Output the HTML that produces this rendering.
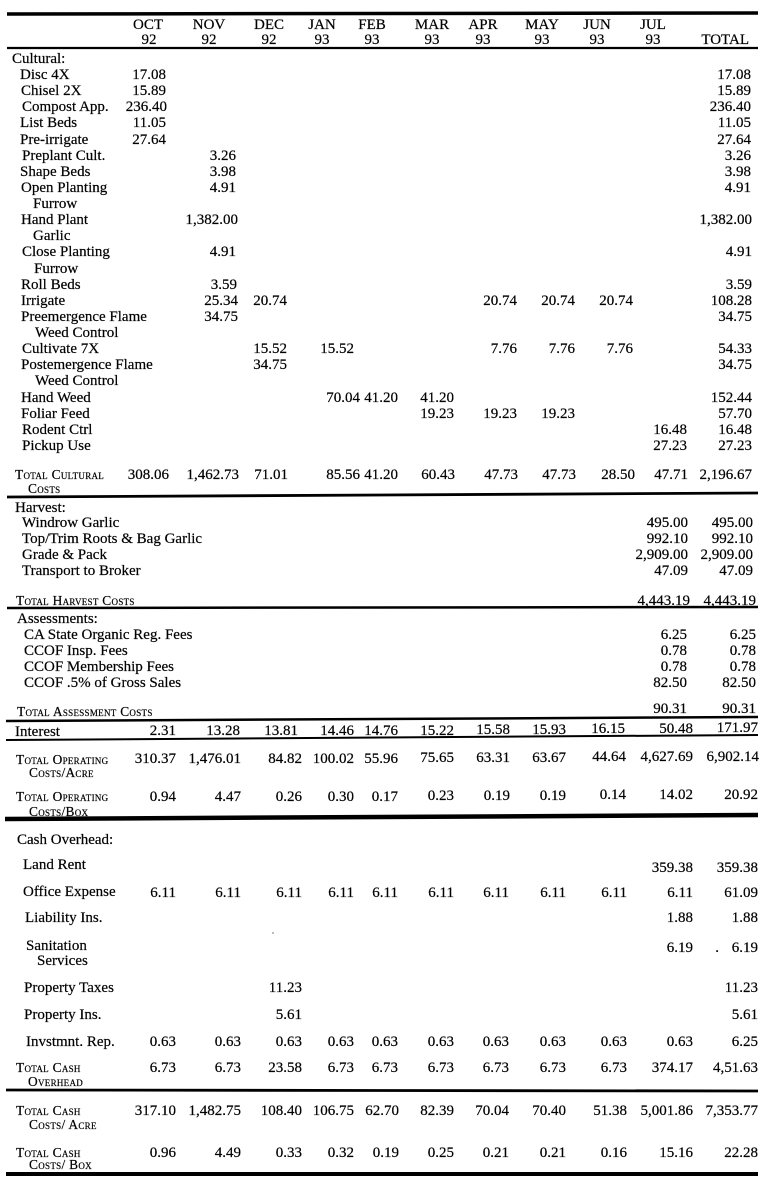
<!DOCTYPE html>
<html><head><meta charset="utf-8">
<style>
html,body{margin:0;padding:0;background:#fff;}
body{width:768px;height:1181px;position:relative;overflow:hidden;}
div{position:absolute;white-space:nowrap;font:15px/16px "Liberation Serif",serif;color:#000;-webkit-text-stroke:0.2px #000;}
.c{width:60px;text-align:center;}
.n{text-align:right;}
.s{font-size:13.4px;line-height:14px;font-variant:small-caps;letter-spacing:0.3px;}
svg{position:absolute;left:0;top:0;}
</style></head><body>
<svg width="768" height="1181">
<g stroke="#000" stroke-linecap="butt">
<line x1="7" y1="14" x2="758" y2="13" stroke-width="3.5"/>
<line x1="7" y1="48" x2="758" y2="48" stroke-width="2.2"/>
<line x1="7" y1="497" x2="758" y2="493" stroke-width="2.8"/>
<line x1="7" y1="608" x2="758" y2="607" stroke-width="2.5"/>
<line x1="6" y1="721" x2="758" y2="717" stroke-width="2.5"/>
<line x1="6" y1="740" x2="758" y2="735" stroke-width="2"/>
<line x1="5" y1="819" x2="758" y2="815" stroke-width="4.5"/>
<line x1="6" y1="1090" x2="758" y2="1091" stroke-width="2.8"/>
<line x1="6" y1="1174" x2="758" y2="1174" stroke-width="4"/>
</g>
<circle cx="273" cy="933" r="0.7" fill="#555"/>
</svg>

<!-- header -->
<div class="c" style="left:118px;top:17px">OCT</div><div class="c" style="left:119px;top:32px">92</div>
<div class="c" style="left:179px;top:17px">NOV</div><div class="c" style="left:179px;top:32px">92</div>
<div class="c" style="left:239px;top:17px">DEC</div><div class="c" style="left:239px;top:32px">92</div>
<div class="c" style="left:292px;top:17px">JAN</div><div class="c" style="left:292px;top:32px">93</div>
<div class="c" style="left:342px;top:17px">FEB</div><div class="c" style="left:342px;top:32px">93</div>
<div class="c" style="left:402px;top:17px">MAR</div><div class="c" style="left:402px;top:32px">93</div>
<div class="c" style="left:453px;top:17px">APR</div><div class="c" style="left:453px;top:32px">93</div>
<div class="c" style="left:512px;top:17px">MAY</div><div class="c" style="left:512px;top:32px">93</div>
<div class="c" style="left:567px;top:17px">JUN</div><div class="c" style="left:567px;top:32px">93</div>
<div class="c" style="left:623px;top:17px">JUL</div><div class="c" style="left:623px;top:32px">93</div>
<div class="n" style="right:19px;top:32px">TOTAL</div>

<!-- cultural labels -->
<div style="left:12px;top:51px">Cultural:</div>
<div style="left:20px;top:67px">Disc 4X</div>
<div style="left:21px;top:83px">Chisel 2X</div>
<div style="left:22px;top:99px">Compost App.</div>
<div style="left:20px;top:115px">List Beds</div>
<div style="left:20px;top:132px">Pre-irrigate</div>
<div style="left:22px;top:148px">Preplant Cult.</div>
<div style="left:20px;top:164px">Shape Beds</div>
<div style="left:21px;top:180px">Open Planting</div>
<div style="left:33px;top:196px">Furrow</div>
<div style="left:21px;top:212px">Hand Plant</div>
<div style="left:33px;top:228px">Garlic</div>
<div style="left:22px;top:244px">Close Planting</div>
<div style="left:34px;top:261px">Furrow</div>
<div style="left:21px;top:277px">Roll Beds</div>
<div style="left:21px;top:293px">Irrigate</div>
<div style="left:21px;top:309px">Preemergence Flame</div>
<div style="left:35px;top:325px">Weed Control</div>
<div style="left:22px;top:341px">Cultivate 7X</div>
<div style="left:21px;top:357px">Postemergence Flame</div>
<div style="left:35px;top:373px">Weed Control</div>
<div style="left:21px;top:390px">Hand Weed</div>
<div style="left:21px;top:406px">Foliar Feed</div>
<div style="left:22px;top:422px">Rodent Ctrl</div>
<div style="left:22px;top:438px">Pickup Use</div>

<!-- cultural numbers -->
<div class="n" style="right:602px;top:67px">17.08</div><div class="n" style="right:17px;top:67px">17.08</div>
<div class="n" style="right:602px;top:83px">15.89</div><div class="n" style="right:17px;top:83px">15.89</div>
<div class="n" style="right:601px;top:99px">236.40</div><div class="n" style="right:17px;top:99px">236.40</div>
<div class="n" style="right:602px;top:115px">11.05</div><div class="n" style="right:17px;top:115px">11.05</div>
<div class="n" style="right:602px;top:132px">27.64</div><div class="n" style="right:17px;top:132px">27.64</div>
<div class="n" style="right:532px;top:148px">3.26</div><div class="n" style="right:17px;top:148px">3.26</div>
<div class="n" style="right:532px;top:164px">3.98</div><div class="n" style="right:17px;top:164px">3.98</div>
<div class="n" style="right:532px;top:180px">4.91</div><div class="n" style="right:17px;top:180px">4.91</div>
<div class="n" style="right:530px;top:212px">1,382.00</div><div class="n" style="right:16px;top:212px">1,382.00</div>
<div class="n" style="right:532px;top:244px">4.91</div><div class="n" style="right:16px;top:244px">4.91</div>
<div class="n" style="right:531px;top:277px">3.59</div><div class="n" style="right:16px;top:277px">3.59</div>
<div class="n" style="right:530px;top:293px">25.34</div><div class="n" style="right:481px;top:293px">20.74</div><div class="n" style="right:251px;top:293px">20.74</div><div class="n" style="right:193px;top:293px">20.74</div><div class="n" style="right:135px;top:293px">20.74</div><div class="n" style="right:16px;top:293px">108.28</div>
<div class="n" style="right:530px;top:309px">34.75</div><div class="n" style="right:16px;top:309px">34.75</div>
<div class="n" style="right:481px;top:341px">15.52</div><div class="n" style="right:414px;top:341px">15.52</div><div class="n" style="right:251px;top:341px">7.76</div><div class="n" style="right:193px;top:341px">7.76</div><div class="n" style="right:135px;top:341px">7.76</div><div class="n" style="right:16px;top:341px">54.33</div>
<div class="n" style="right:481px;top:357px">34.75</div><div class="n" style="right:16px;top:357px">34.75</div>
<div class="n" style="right:408px;top:390px">70.04</div><div class="n" style="right:370px;top:390px">41.20</div><div class="n" style="right:314px;top:390px">41.20</div><div class="n" style="right:16px;top:390px">152.44</div>
<div class="n" style="right:314px;top:406px">19.23</div><div class="n" style="right:251px;top:406px">19.23</div><div class="n" style="right:193px;top:406px">19.23</div><div class="n" style="right:16px;top:406px">57.70</div>
<div class="n" style="right:81px;top:422px">16.48</div><div class="n" style="right:16px;top:422px">16.48</div>
<div class="n" style="right:81px;top:438px">27.23</div><div class="n" style="right:16px;top:438px">27.23</div>

<!-- total cultural -->
<div class="s" style="left:15px;top:468px">Total Cultural</div>
<div class="s" style="left:28px;top:482px">Costs</div>
<div class="n" style="right:599px;top:467px">308.06</div>
<div class="n" style="right:529px;top:467px">1,462.73</div>
<div class="n" style="right:480px;top:467px">71.01</div>
<div class="n" style="right:408px;top:467px">85.56</div>
<div class="n" style="right:370px;top:467px">41.20</div>
<div class="n" style="right:313px;top:467px">60.43</div>
<div class="n" style="right:250px;top:467px">47.73</div>
<div class="n" style="right:192px;top:467px">47.73</div>
<div class="n" style="right:133px;top:467px">28.50</div>
<div class="n" style="right:80px;top:467px">47.71</div>
<div class="n" style="right:16px;top:467px">2,196.67</div>

<!-- harvest -->
<div style="left:15px;top:500px">Harvest:</div>
<div style="left:22px;top:515px">Windrow Garlic</div>
<div style="left:22px;top:531px">Top/Trim Roots &amp; Bag Garlic</div>
<div style="left:22px;top:547px">Grade &amp; Pack</div>
<div style="left:22px;top:563px">Transport to Broker</div>
<div class="n" style="right:80px;top:515px">495.00</div><div class="n" style="right:15px;top:515px">495.00</div>
<div class="n" style="right:80px;top:531px">992.10</div><div class="n" style="right:15px;top:531px">992.10</div>
<div class="n" style="right:80px;top:547px">2,909.00</div><div class="n" style="right:15px;top:547px">2,909.00</div>
<div class="n" style="right:80px;top:563px">47.09</div><div class="n" style="right:15px;top:563px">47.09</div>
<div class="s" style="left:16px;top:594px">Total Harvest Costs</div>
<div class="n" style="right:78px;top:593px">4,443.19</div><div class="n" style="right:12px;top:593px">4,443.19</div>

<!-- assessments -->
<div style="left:17px;top:611px">Assessments:</div>
<div style="left:24px;top:627px">CA State Organic Reg. Fees</div>
<div style="left:24px;top:643px">CCOF Insp. Fees</div>
<div style="left:24px;top:659px">CCOF Membership Fees</div>
<div style="left:24px;top:675px">CCOF .5% of Gross Sales</div>
<div class="n" style="right:81px;top:627px">6.25</div><div class="n" style="right:12px;top:627px">6.25</div>
<div class="n" style="right:81px;top:643px">0.78</div><div class="n" style="right:12px;top:643px">0.78</div>
<div class="n" style="right:81px;top:659px">0.78</div><div class="n" style="right:12px;top:659px">0.78</div>
<div class="n" style="right:81px;top:675px">82.50</div><div class="n" style="right:12px;top:675px">82.50</div>
<div class="s" style="left:17px;top:705px">Total Assessment Costs</div>
<div class="n" style="right:81px;top:701px">90.31</div><div class="n" style="right:12px;top:701px">90.31</div>

<!-- interest -->
<div style="left:15px;top:724px">Interest</div>
<div class="n" style="right:592px;top:723px">2.31</div>
<div class="n" style="right:528px;top:723px">13.28</div>
<div class="n" style="right:470px;top:723px">13.81</div>
<div class="n" style="right:414px;top:723px">14.46</div>
<div class="n" style="right:370px;top:723px">14.76</div>
<div class="n" style="right:314px;top:723px">15.22</div>
<div class="n" style="right:258px;top:722px">15.58</div>
<div class="n" style="right:202px;top:722px">15.93</div>
<div class="n" style="right:143px;top:721px">16.15</div>
<div class="n" style="right:75px;top:721px">50.48</div>
<div class="n" style="right:10px;top:720px">171.97</div>

<!-- total operating acre -->
<div class="s" style="left:16px;top:753px">Total Operating</div>
<div class="s" style="left:29px;top:766px">Costs/Acre</div>
<div class="n" style="right:592px;top:751px">310.37</div>
<div class="n" style="right:527px;top:751px">1,476.01</div>
<div class="n" style="right:466px;top:751px">84.82</div>
<div class="n" style="right:414px;top:751px">100.02</div>
<div class="n" style="right:370px;top:751px">55.96</div>
<div class="n" style="right:314px;top:750px">75.65</div>
<div class="n" style="right:258px;top:750px">63.31</div>
<div class="n" style="right:202px;top:750px">63.67</div>
<div class="n" style="right:142px;top:749px">44.64</div>
<div class="n" style="right:75px;top:749px">4,627.69</div>
<div class="n" style="right:9px;top:749px">6,902.14</div>

<!-- total operating box -->
<div class="s" style="left:16px;top:790px">Total Operating</div>
<div class="s" style="left:29px;top:805px">Costs/Box</div>
<div class="n" style="right:592px;top:789px">0.94</div>
<div class="n" style="right:527px;top:789px">4.47</div>
<div class="n" style="right:466px;top:789px">0.26</div>
<div class="n" style="right:414px;top:789px">0.30</div>
<div class="n" style="right:370px;top:789px">0.17</div>
<div class="n" style="right:314px;top:788px">0.23</div>
<div class="n" style="right:258px;top:788px">0.19</div>
<div class="n" style="right:202px;top:788px">0.19</div>
<div class="n" style="right:142px;top:787px">0.14</div>
<div class="n" style="right:75px;top:787px">14.02</div>
<div class="n" style="right:10px;top:787px">20.92</div>

<!-- cash overhead -->
<div style="left:17px;top:832px">Cash Overhead:</div>
<div style="left:23px;top:857px">Land Rent</div>
<div style="left:23px;top:884px">Office Expense</div>
<div style="left:25px;top:910px">Liability Ins.</div>
<div style="left:26px;top:938px">Sanitation</div>
<div style="left:37px;top:953px">Services</div>
<div style="left:24px;top:980px">Property Taxes</div>
<div style="left:24px;top:1007px">Property Ins.</div>
<div style="left:26px;top:1034px">Invstmnt. Rep.</div>

<div class="n" style="right:75px;top:860px">359.38</div><div class="n" style="right:10px;top:860px">359.38</div>

<div class="n" style="right:592px;top:885px">6.11</div>
<div class="n" style="right:527px;top:885px">6.11</div>
<div class="n" style="right:466px;top:885px">6.11</div>
<div class="n" style="right:414px;top:885px">6.11</div>
<div class="n" style="right:370px;top:885px">6.11</div>
<div class="n" style="right:314px;top:885px">6.11</div>
<div class="n" style="right:259px;top:885px">6.11</div>
<div class="n" style="right:202px;top:885px">6.11</div>
<div class="n" style="right:141px;top:885px">6.11</div>
<div class="n" style="right:75px;top:885px">6.11</div>
<div class="n" style="right:10px;top:885px">61.09</div>

<div class="n" style="right:75px;top:910px">1.88</div><div class="n" style="right:10px;top:910px">1.88</div>

<div class="n" style="right:75px;top:940px">6.19</div><div class="n" style="right:49px;top:940px">.</div><div class="n" style="right:10px;top:940px">6.19</div>

<div class="n" style="right:466px;top:980px">11.23</div><div class="n" style="right:10px;top:980px">11.23</div>
<div class="n" style="right:466px;top:1007px">5.61</div><div class="n" style="right:10px;top:1007px">5.61</div>

<div class="n" style="right:592px;top:1034px">0.63</div>
<div class="n" style="right:527px;top:1034px">0.63</div>
<div class="n" style="right:466px;top:1034px">0.63</div>
<div class="n" style="right:414px;top:1034px">0.63</div>
<div class="n" style="right:370px;top:1034px">0.63</div>
<div class="n" style="right:314px;top:1034px">0.63</div>
<div class="n" style="right:259px;top:1034px">0.63</div>
<div class="n" style="right:202px;top:1034px">0.63</div>
<div class="n" style="right:141px;top:1034px">0.63</div>
<div class="n" style="right:75px;top:1034px">0.63</div>
<div class="n" style="right:10px;top:1034px">6.25</div>

<!-- total cash overhead -->
<div class="s" style="left:16px;top:1061px">Total Cash</div>
<div class="s" style="left:28px;top:1075px">Overhead</div>
<div class="n" style="right:592px;top:1060px">6.73</div>
<div class="n" style="right:527px;top:1060px">6.73</div>
<div class="n" style="right:466px;top:1060px">23.58</div>
<div class="n" style="right:414px;top:1060px">6.73</div>
<div class="n" style="right:370px;top:1060px">6.73</div>
<div class="n" style="right:314px;top:1060px">6.73</div>
<div class="n" style="right:259px;top:1060px">6.73</div>
<div class="n" style="right:202px;top:1060px">6.73</div>
<div class="n" style="right:141px;top:1060px">6.73</div>
<div class="n" style="right:75px;top:1060px">374.17</div>
<div class="n" style="right:10px;top:1060px">4,51.63</div>

<!-- total cash acre -->
<div class="s" style="left:16px;top:1104px">Total Cash</div>
<div class="s" style="left:29px;top:1118px">Costs/ Acre</div>
<div class="n" style="right:592px;top:1103px">317.10</div>
<div class="n" style="right:527px;top:1103px">1,482.75</div>
<div class="n" style="right:466px;top:1103px">108.40</div>
<div class="n" style="right:414px;top:1103px">106.75</div>
<div class="n" style="right:369px;top:1103px">62.70</div>
<div class="n" style="right:314px;top:1103px">82.39</div>
<div class="n" style="right:259px;top:1103px">70.04</div>
<div class="n" style="right:202px;top:1103px">70.40</div>
<div class="n" style="right:141px;top:1103px">51.38</div>
<div class="n" style="right:75px;top:1103px">5,001.86</div>
<div class="n" style="right:10px;top:1103px">7,353.77</div>

<!-- total cash box -->
<div class="s" style="left:16px;top:1146px">Total Cash</div>
<div class="s" style="left:29px;top:1158px">Costs/ Box</div>
<div class="n" style="right:592px;top:1145px">0.96</div>
<div class="n" style="right:527px;top:1145px">4.49</div>
<div class="n" style="right:466px;top:1145px">0.33</div>
<div class="n" style="right:414px;top:1145px">0.32</div>
<div class="n" style="right:369px;top:1145px">0.19</div>
<div class="n" style="right:314px;top:1145px">0.25</div>
<div class="n" style="right:259px;top:1145px">0.21</div>
<div class="n" style="right:202px;top:1145px">0.21</div>
<div class="n" style="right:141px;top:1145px">0.16</div>
<div class="n" style="right:75px;top:1145px">15.16</div>
<div class="n" style="right:10px;top:1145px">22.28</div>

</body></html>
